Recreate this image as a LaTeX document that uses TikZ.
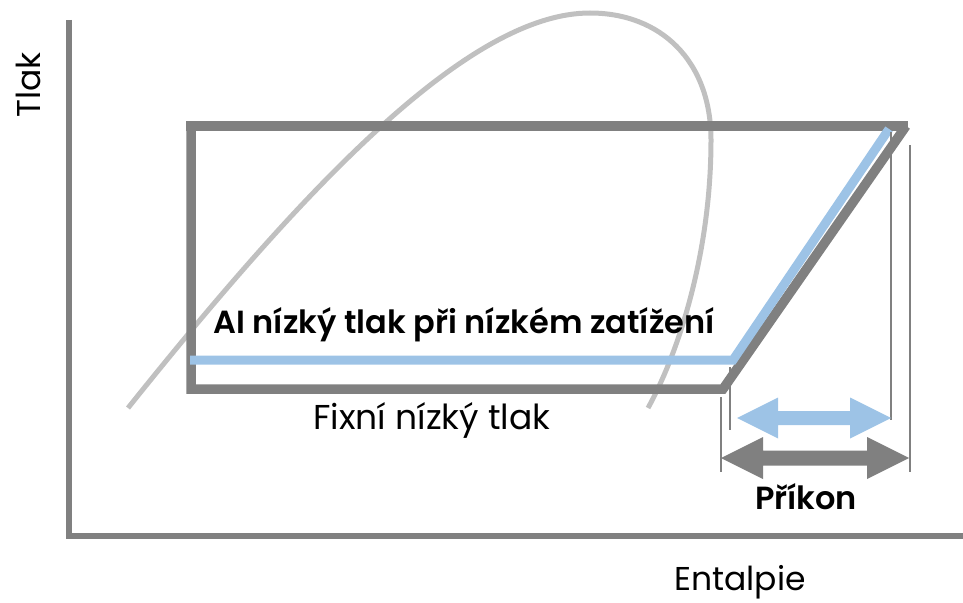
\documentclass[tikz,border=0pt]{standalone}
\usepackage{fontspec}
\setmainfont{Poppins}[BoldFont={Poppins SemiBold}]
\definecolor{axgray}{HTML}{808080}
\definecolor{domegray}{HTML}{C0C0C0}
\definecolor{lblue}{HTML}{9DC3E6}
\begin{document}
\begin{tikzpicture}[x=1pt,y=-1pt,
  axis/.style={draw=axgray,line width=6pt},
  cycleline/.style={draw=axgray,line width=9.5pt},
  ailine/.style={draw=lblue,line width=9pt},
  dome/.style={draw=domegray,line width=5pt,line cap=butt},
  thin/.style={draw=axgray,line width=2pt},
  lbl/.style={inner sep=0pt,font=\fontsize{33}{38}\selectfont},
  blbl/.style={inner sep=0pt,font=\fontsize{32}{38}\selectfont\bfseries}]
\useasboundingbox (0,0) rectangle (963,602);
% axes
\coordinate (ytop) at (69,20);
\coordinate (origin) at (69,536);
\coordinate (xend) at (963,536);
\draw[axis] (ytop) -- (69,539);
\draw[axis] (66,536) -- (xend);
% dome
\coordinate (d0) at (128,408);
\coordinate (dpeak) at (590,13);
\coordinate (dright) at (711,140);
\coordinate (dend) at (648,408);
\draw[dome] (d0) .. controls (308,183) and (470,13) .. (dpeak)
  .. controls (660,13) and (711,60) .. (dright)
  .. controls (711,250) and (680,350) .. (dend);
% cycle
\coordinate (tl) at (191,126);
\coordinate (bl) at (191,389);
\coordinate (br) at (723,389);
\coordinate (tr) at (906,126);
\draw[cycleline] (186,126) -- (908,126);
\draw[cycleline,line join=miter] (tl) -- (bl) -- (br) -- (tr);
% AI line
\coordinate (al) at (190,360);
\coordinate (ar) at (733,360);
\coordinate (at2) at (889,129);
\draw[ailine,line join=miter] (al) -- (ar) -- (at2);
% thin lines
\draw[thin] (721,397) -- (721,472);
\draw[thin] (730,367) -- (730,430);
\draw[thin] (891,132) -- (891,420);
\draw[thin] (910,145) -- (910,472);
% arrows
\fill[lblue] (737,418) -- (778,397.5) -- (778,411) -- (850,411) -- (850,397.5) -- (891,418) -- (850,438.5) -- (850,425) -- (778,425) -- (778,438.5) -- cycle;
\fill[axgray] (721,458) -- (763,437) -- (763,450.5) -- (867,450.5) -- (867,437) -- (909,458) -- (867,479) -- (867,465.5) -- (763,465.5) -- (763,479) -- cycle;
% labels
\node[blbl] (ai) at (464,325) {AI nízký tlak při nízkém zatížení};
\node[lbl,font=\fontsize{34.5}{40}\selectfont] (fix) at (432,420) {Fixní nízký tlak};
\node[blbl] (pr) at (806,497) {Příkon};
\node[lbl] (ent) at (740,582) {Entalpie};
\node[lbl,rotate=90] (tl2) at (28,85) {Tlak};
\end{tikzpicture}
\end{document}
